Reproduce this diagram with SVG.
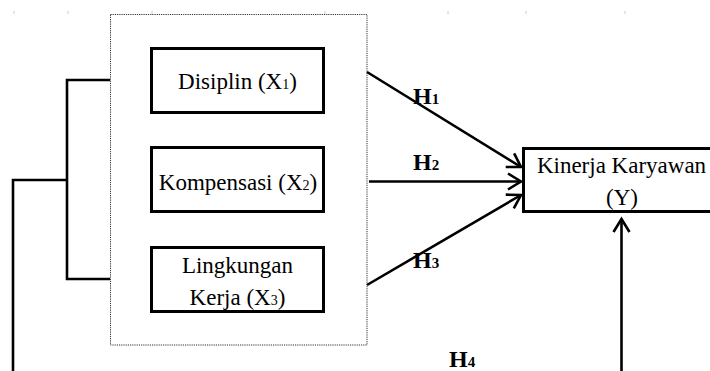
<svg xmlns="http://www.w3.org/2000/svg" width="710" height="371" viewBox="0 0 710 371">
<defs>
<style>
.box{fill:#fff;stroke:#000;stroke-width:3}
.frame{fill:none;stroke:#333;stroke-width:1;stroke-dasharray:1.2 1}
.ln{fill:none;stroke:#000;stroke-width:2.6}
.t{font-family:"Liberation Serif","Times New Roman",serif;font-size:23px;fill:#000;text-anchor:middle}
.h{font-family:"Liberation Serif","Times New Roman",serif;font-size:24px;font-weight:bold;fill:#000}
.sub{font-size:14px}
.hs{font-size:15px}
.tick{stroke:#ccc;stroke-width:1}
</style>
<marker id="arr" markerUnits="userSpaceOnUse" markerWidth="20" markerHeight="20" viewBox="-14 -10 16 20" refX="0" refY="0" orient="auto">
<path d="M-13,-8 L0,0 L-13,8" fill="none" stroke="#000" stroke-width="2.6"/>
</marker>
</defs>
<g id="ticks">
<line class="tick" x1="14" y1="11" x2="14" y2="14"/>
<line class="tick" x1="68" y1="11" x2="68" y2="14"/>
<line class="tick" x1="152" y1="11" x2="152" y2="14"/>
<line class="tick" x1="325" y1="11" x2="325" y2="14"/>
<line class="tick" x1="448" y1="11" x2="448" y2="14"/>
<line class="tick" x1="526" y1="11" x2="526" y2="14"/>
<line class="tick" x1="625" y1="11" x2="625" y2="14"/>
</g>
<g id="frame">
<rect class="frame" x="110.5" y="14.5" width="256.5" height="330.5"/>
</g>
<g id="connectors">
<polyline class="ln" points="110,80 67,80 67,279 110,279"/>
<polyline class="ln" points="67,180 13,180 13,372"/>
<line class="ln" x1="367" y1="72" x2="521" y2="167" marker-end="url(#arr)"/>
<line class="ln" x1="369" y1="181.5" x2="521" y2="181.5" marker-end="url(#arr)"/>
<line class="ln" x1="367" y1="285" x2="521" y2="195" marker-end="url(#arr)"/>
<line class="ln" x1="621.5" y1="372" x2="621.5" y2="219" marker-end="url(#arr)"/>
</g>
<g id="labels">
<text class="h" x="413" y="104">H<tspan class="hs">1</tspan></text>
<text class="h" x="413" y="170">H<tspan class="hs">2</tspan></text>
<text class="h" x="413" y="268">H<tspan class="hs">3</tspan></text>
<text class="h" x="449" y="367">H<tspan class="hs">4</tspan></text>
</g>
<g id="x1">
<rect class="box" x="151.5" y="48.5" width="172" height="64"/>
<text class="t" x="237.5" y="89">Disiplin (X<tspan class="sub">1</tspan>)</text>
</g>
<g id="x2">
<rect class="box" x="151.5" y="147.5" width="172" height="64"/>
<text class="t" x="238" y="190">Kompensasi (X<tspan class="sub">2</tspan>)</text>
</g>
<g id="x3">
<rect class="box" x="151.5" y="247.5" width="172" height="64"/>
<text class="t" x="237.5" y="273">Lingkungan</text>
<text class="t" x="237.5" y="305">Kerja (X<tspan class="sub">3</tspan>)</text>
</g>
<g id="y">
<rect class="box" x="523.5" y="148.5" width="200" height="63"/>
<text class="t" x="621.5" y="173">Kinerja Karyawan</text>
<text class="t" x="622" y="205">(Y)</text>
</g>
</svg>
